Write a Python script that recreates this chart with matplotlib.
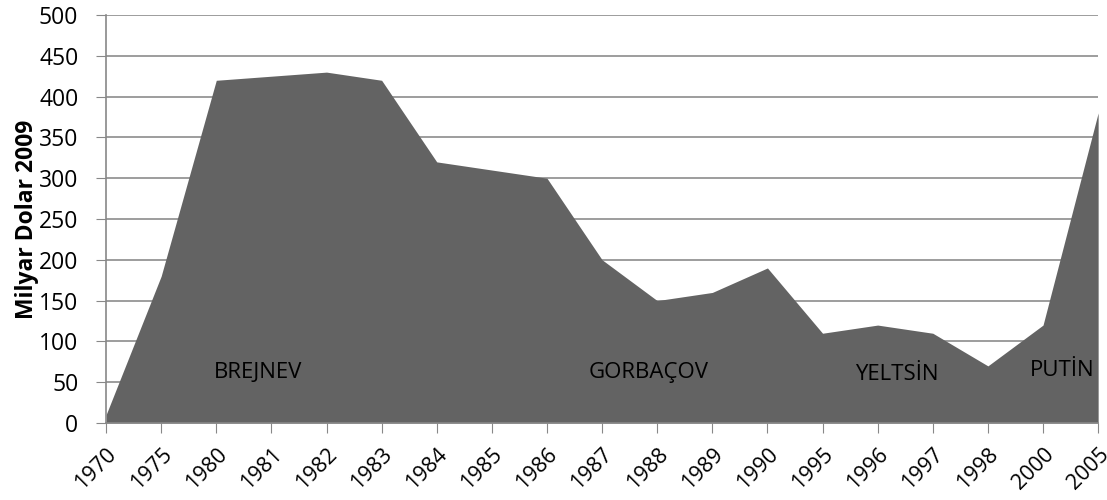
import matplotlib.pyplot as plt
import numpy as np

years = ['1970', '1975', '1980', '1981', '1982', '1983', '1984', '1985', '1986', '1987',
         '1988', '1989', '1990', '1995', '1996', '1997', '1998', '2000', '2005']
values = [10, 180, 420, 425, 430, 420, 320, 310, 300, 200,
          150, 160, 190, 110, 120, 110, 70, 120, 380]
leaders = ['BREJNEV', 'GORBAÇOV', 'YELTSİN', 'PUTİN']
leader_pos = [2.75, 9.85, 14.35, 17.35]
leader_y = [62, 62, 60, 64]

plt.rcParams['font.family'] = ['Open Sans', 'DejaVu Sans']

fig = plt.figure(figsize=(11.07, 5.0), dpi=100)
ax = fig.add_axes([0.0958, 0.154, 0.8962, 0.816])

x = np.arange(len(years))
ax.fill_between(x, 0, values, color='#636363', linewidth=0, zorder=2)

ax.set_xlim(0, len(years) - 1)
ax.set_ylim(0, 500)
ax.set_yticks(range(0, 501, 50))
ax.set_xticks(x)
ax.set_xticklabels(years, rotation=45, ha='right', rotation_mode='anchor', fontsize=15.5)
ax.tick_params(axis='y', labelsize=16.5, length=7, color='#888888', pad=13)
ax.tick_params(axis='x', length=7, color='#888888', pad=8)
ax.yaxis.grid(True, color='#8c8c8c', linewidth=1.2, zorder=1)
ax.set_axisbelow(True)

for s in ['top', 'right']:
    ax.spines[s].set_visible(False)
for s in ['left', 'bottom']:
    ax.spines[s].set_color('#888888')
    ax.spines[s].set_linewidth(1.2)

ax.set_ylabel('Milyar Dolar 2009', fontsize=16.5, fontweight='bold', labelpad=0)

for name, px, py in zip(leaders, leader_pos, leader_y):
    ax.text(px, py, name, ha='center', va='center', fontsize=16, color='black', zorder=3)

fig.savefig('out.png', dpi=100)
